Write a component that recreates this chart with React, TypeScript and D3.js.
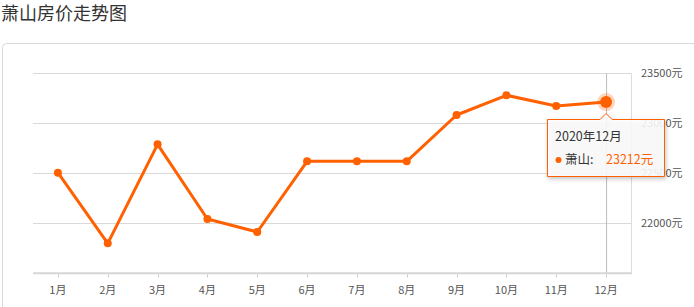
import React from "react";
import * as d3 from "d3";

const months = ["1月", "2月", "3月", "4月", "5月", "6月", "7月", "8月", "9月", "10月", "11月", "12月"];
const prices = [22506, 21800, 22790, 22043, 21913, 22620, 22620, 22620, 23083, 23280, 23173, 23212];
const yTicks = [22000, 22500, 23000, 23500];
const title = "萧山房价走势图";
const seriesName = "萧山";
const tooltipTitle = "2020年12月";
const activeIndex = 11;

const ORANGE = "#ff6000";
const FONT = "'Noto Sans CJK SC', 'Noto Sans', sans-serif";

export default function App() {
  const W = 694, H = 307;
  const left = 33, right = 631, top = 73.3, bottom = 273.3;
  const x = d3.scaleBand<string>().domain(months).range([left, right]);
  const cx = (m: string) => (x(m) as number) + x.bandwidth() / 2;
  const y = d3.scaleLinear().domain([21500, 23500]).range([bottom, top]);
  const line = d3.line<number>().x((_, i) => cx(months[i])).y((d) => y(d));

  const ax = cx(months[activeIndex]);
  const ay = y(prices[activeIndex]);
  const tipL = 547.5, tipT = 119.5, tipR = 664.5, tipB = 176.5;

  return (
    <div style={{ position: "absolute", left: 0, top: 0 }}>
      <svg width={W} height={H} style={{ display: "block", fontFamily: FONT }}>
        <rect x={0} y={0} width={W} height={H} fill="#fff" />
        <text x={1} y={20} fontSize={18} fill="#333">{title}</text>
        <rect x={2.5} y={43.5} width={760} height={320} rx={4} fill="#fff" stroke="#d9d9d9" />
        {yTicks.map((t) => (
          <g key={t}>
            <line x1={left} x2={right} y1={Math.round(y(t)) + 0.5} y2={Math.round(y(t)) + 0.5} stroke="#d9d9d9" />
            <text x={641} y={y(t)} dy="0.35em" fontSize={11} fill="#555">{t}元</text>
          </g>
        ))}
        <line x1={right + 0.5} x2={right + 0.5} y1={top} y2={bottom} stroke="#ddd" />
        <line x1={ax + 0.5} x2={ax + 0.5} y1={top} y2={bottom} stroke="#bbb" />
        <line x1={left} x2={right + 1} y1={bottom} y2={bottom} stroke="#d6d6d6" strokeWidth={2} />
        {months.map((m) => (
          <g key={m}>
            <line x1={Math.round(cx(m)) + 0.5} x2={Math.round(cx(m)) + 0.5} y1={bottom + 1} y2={bottom + 4} stroke="#ccc" />
            <text x={cx(m)} y={290} dy="0.35em" textAnchor="middle" fontSize={11} fill="#555">{m}</text>
          </g>
        ))}
        <path d={line(prices) || ""} fill="none" stroke={ORANGE} strokeWidth={3} strokeLinejoin="round" />
        {prices.map((p, i) =>
          i === activeIndex ? null : <circle key={i} cx={cx(months[i])} cy={y(p)} r={4} fill={ORANGE} />
        )}
        <circle cx={ax} cy={ay} r={9} fill={ORANGE} opacity={0.25} />
        <circle cx={ax} cy={ay} r={6} fill={ORANGE} />
        <g>
          <path
            d={`M${tipL},${tipT} H${ax - 6} L${ax},${tipT - 6} L${ax + 6},${tipT} H${tipR} V${tipB} H${tipL} Z`}
            fill="rgba(255,255,255,0.88)"
            stroke={ORANGE}
            strokeWidth={1}
            style={{ filter: "drop-shadow(1px 2px 2px rgba(0,0,0,0.25))" }}
          />
          <text x={555} y={137} dy="0.35em" fontSize={12.5} fill="#333">{tooltipTitle}</text>
          <circle cx={558.5} cy={160} r={3} fill={ORANGE} />
          <text x={565} y={160} dy="0.35em" fontSize={12.5} fill="#333">{seriesName}:</text>
          <text x={606} y={160} dy="0.35em" fontSize={12.5} fill={ORANGE}>{prices[activeIndex] === 23212 ? "23212" : prices[activeIndex]}元</text>
        </g>
      </svg>
    </div>
  );
}
